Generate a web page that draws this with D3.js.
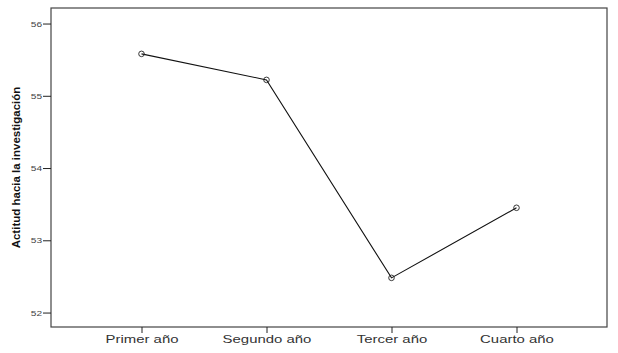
<!DOCTYPE html>
<html>
<head>
<meta charset="utf-8">
<script src="https://cdn.jsdelivr.net/npm/d3@7"></script>
<style>
  body { margin: 0; background: #fff; }
  svg { display: block; }
</style>
</head>
<body>
<svg id="chart" width="618" height="353"></svg>
<script>
// data
const categories = ['Primer año', 'Segundo año', 'Tercer año', 'Cuarto año'];
const means = [55.58, 55.22, 52.48, 53.45];
const yTicks = [52, 53, 54, 55, 56];
const yLabel = 'Actitud hacia la investigación';

const width = 618;
const height = 353;
const margins = { top: 8, right: 11, bottom: 26, left: 51 };

const svg = d3.select('#chart');

const xScale = d3.scalePoint()
  .domain(categories)
  .range([margins.left, width - margins.right])
  .padding(0.724);

const yScale = d3.scaleLinear()
  .domain([51.8, 56.215])
  .range([height - margins.bottom, margins.top]);

// frame
svg.append('rect')
  .attr('x', margins.left)
  .attr('y', margins.top)
  .attr('width', width - margins.left - margins.right)
  .attr('height', height - margins.top - margins.bottom)
  .attr('fill', 'none')
  .attr('stroke', '#444')
  .attr('stroke-width', 1.2);

// y axis
const yAxis = svg.append('g')
  .attr('transform', `translate(${margins.left},0)`)
  .call(d3.axisLeft(yScale).tickValues(yTicks).tickSize(8).tickPadding(1).tickFormat(d3.format('d')));
yAxis.select('.domain').remove();
yAxis.selectAll('line').attr('stroke', '#222');
yAxis.selectAll('text')
  .attr('font-family', 'Liberation Sans, Arial, sans-serif')
  .attr('font-size', 7.8)
  .attr('fill', '#444')
  .attr('x', -9 / 1.3)
  .attr('transform', 'scale(1.3,1)');

// x axis
const xAxis = svg.append('g')
  .attr('transform', `translate(0,${height - margins.bottom})`)
  .call(d3.axisBottom(xScale).tickSize(6).tickPadding(3));
xAxis.select('.domain').remove();
xAxis.selectAll('line').attr('stroke', '#222');
xAxis.selectAll('text')
  .attr('font-family', 'Liberation Sans, Arial, sans-serif')
  .attr('font-size', 10.3)
  .attr('fill', '#333')
  .attr('transform', 'scale(1.45,1)');

// y label
svg.append('text')
  .attr('transform', `translate(20,${(margins.top + height - margins.bottom) / 2}) rotate(-90)`)
  .attr('text-anchor', 'middle')
  .attr('font-family', 'Liberation Sans Narrow, Arial Narrow, sans-serif')
  .attr('font-weight', 'bold')
  .attr('font-size', 11.5)
  .attr('fill', '#111')
  .text(yLabel);

const points = categories.map((c, i) => ({ cat: c, value: means[i] }));

const line = d3.line()
  .x(d => xScale(d.cat))
  .y(d => yScale(d.value));

svg.append('path')
  .datum(points)
  .attr('fill', 'none')
  .attr('stroke', '#111')
  .attr('stroke-width', 1.1)
  .attr('d', line);

svg.selectAll('circle.pt')
  .data(points)
  .enter().append('circle')
  .attr('class', 'pt')
  .attr('cx', d => xScale(d.cat))
  .attr('cy', d => yScale(d.value))
  .attr('r', 2.8)
  .attr('fill', 'none')
  .attr('stroke', '#222')
  .attr('stroke-width', 0.9);
</script>
</body>
</html>
